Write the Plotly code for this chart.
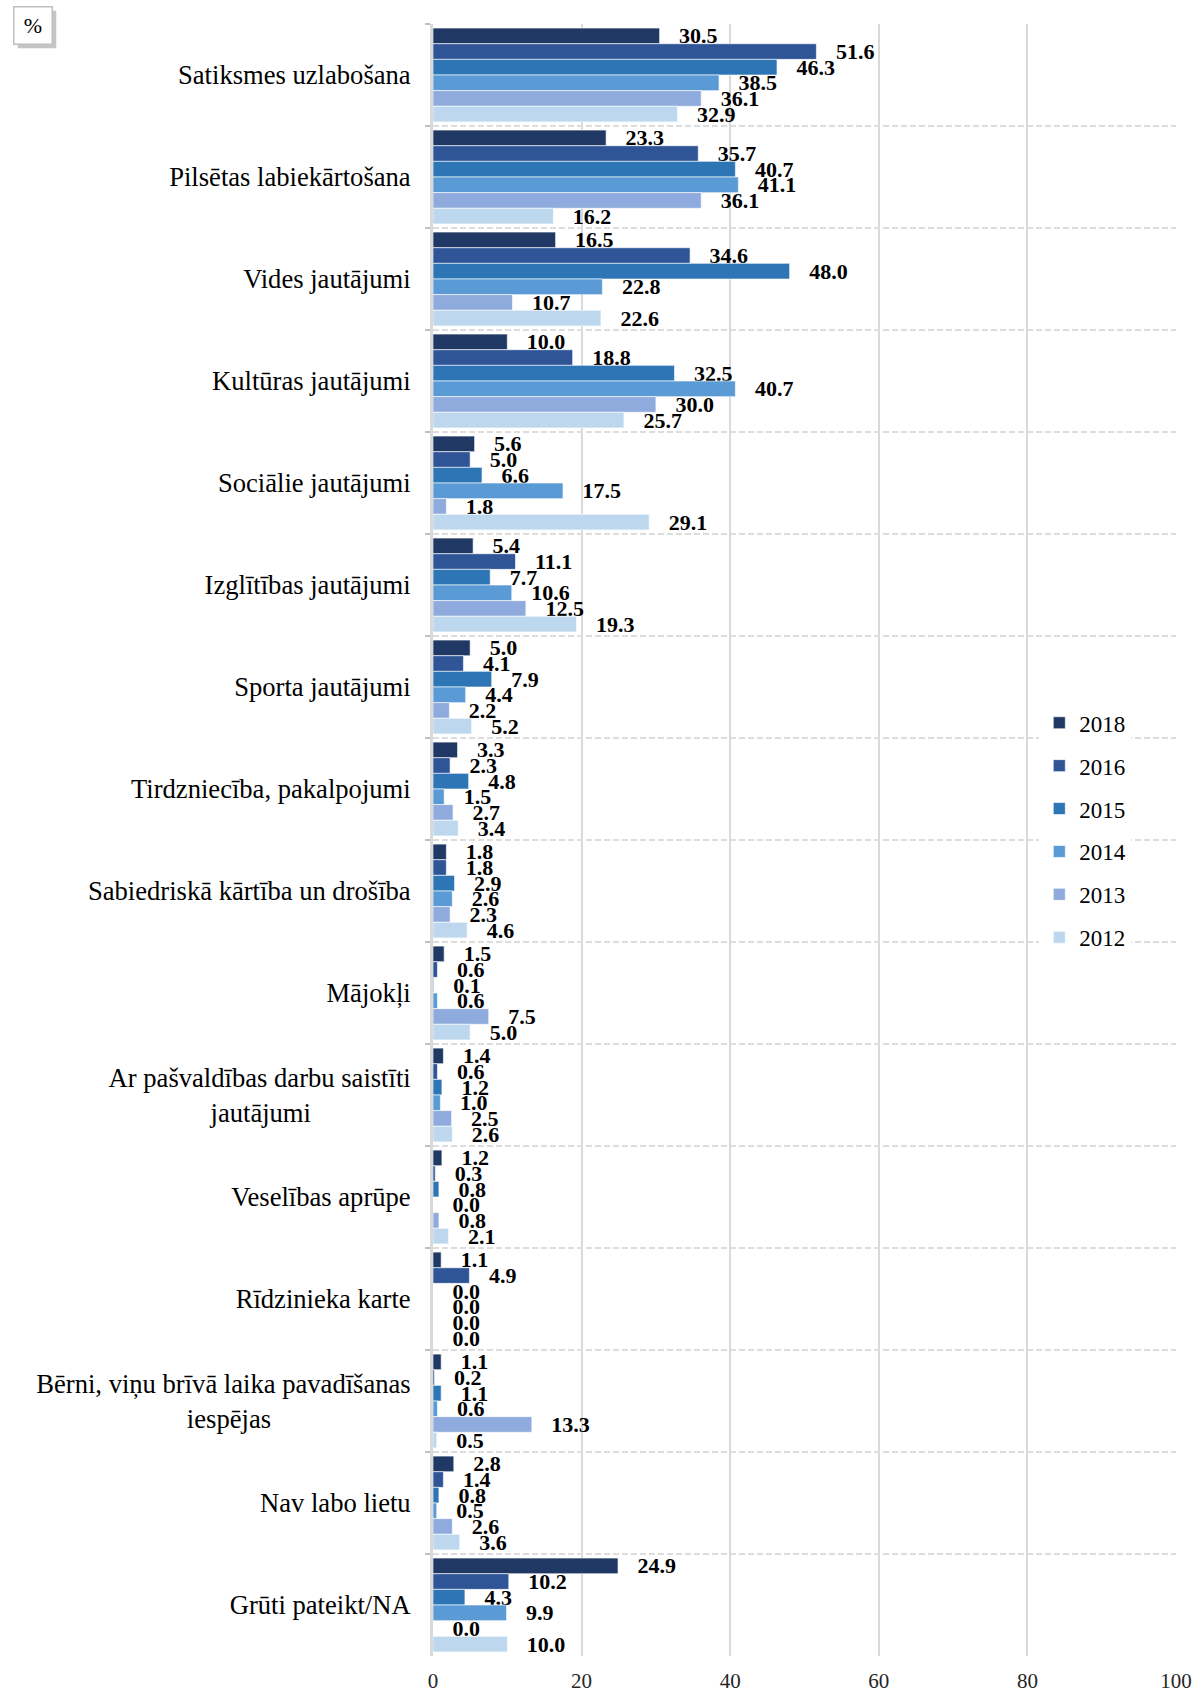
import plotly.graph_objects as go

NBSP = "\u00a0"

categories = [
    "Satiksmes uzlabošana",
    "Pilsētas labiekārtošana",
    "Vides jautājumi",
    "Kultūras jautājumi",
    "Sociālie jautājumi",
    "Izglītības jautājumi",
    "Sporta jautājumi",
    "Tirdzniecība, pakalpojumi",
    "Sabiedriskā kārtība un drošība",
    "Mājokļi",
    "Ar pašvaldības darbu saistīti<br>jautājumi" + NBSP * 15,
    "Veselības aprūpe",
    "Rīdzinieka karte",
    "Bērni, viņu brīvā laika pavadīšanas<br>iespējas" + NBSP * 21,
    "Nav labo lietu",
    "Grūti pateikt/NA",
]

years = ["2018", "2016", "2015", "2014", "2013", "2012"]

v2018 = [30.5, 23.3, 16.5, 10.0, 5.6, 5.4, 5.0, 3.3, 1.8, 1.5, 1.4, 1.2, 1.1, 1.1, 2.8, 24.9]
v2016 = [51.6, 35.7, 34.6, 18.8, 5.0, 11.1, 4.1, 2.3, 1.8, 0.6, 0.6, 0.3, 4.9, 0.2, 1.4, 10.2]
v2015 = [46.3, 40.7, 48.0, 32.5, 6.6, 7.7, 7.9, 4.8, 2.9, 0.1, 1.2, 0.8, 0.0, 1.1, 0.8, 4.3]
v2014 = [38.5, 41.1, 22.8, 40.7, 17.5, 10.6, 4.4, 1.5, 2.6, 0.6, 1.0, 0.0, 0.0, 0.6, 0.5, 9.9]
v2013 = [36.1, 36.1, 10.7, 30.0, 1.8, 12.5, 2.2, 2.7, 2.3, 7.5, 2.5, 0.8, 0.0, 13.3, 2.6, 0.0]
v2012 = [32.9, 16.2, 22.6, 25.7, 29.1, 19.3, 5.2, 3.4, 4.6, 5.0, 2.6, 2.1, 0.0, 0.5, 3.6, 10.0]

series = [v2018, v2016, v2015, v2014, v2013, v2012]
colors = ["#203864", "#2F5597", "#2E75B6", "#5B9BD5", "#8FAADC", "#BDD7EE"]

FONT = "Liberation Serif"

fig = go.Figure()
for year, vals, col in zip(years, series, colors):
    fig.add_trace(go.Bar(
        y=categories, x=vals, name=year, orientation="h",
        marker=dict(color=col, line=dict(color="rgba(255,255,255,0.6)", width=1)),
        texttemplate=NBSP * 3 + "<b>%{x:.1f}</b>",
        textposition="outside", constraintext="none", cliponaxis=False,
        textfont=dict(family=FONT, size=22, color="black"),
        legendgroup=year,
    ))

fig.update_layout(
    width=1197, height=1693,
    margin=dict(l=433, r=21, t=24, b=37),
    paper_bgcolor="white", plot_bgcolor="white",
    barmode="group", bargap=0.08, bargroupgap=0,
    font=dict(family=FONT, color="black"),
    showlegend=True,
    legend=dict(x=0.816, y=0.585, xanchor="left", yanchor="top",
                bgcolor="white", font=dict(family=FONT, size=23, color="black"),
                tracegroupgap=10, traceorder="grouped"),
)

fig.update_xaxes(
    range=[0, 100], tickvals=[0, 20, 40, 60, 80, 100],
    showgrid=True, gridcolor="#D9D9D9", gridwidth=2,
    zeroline=False, showline=False, ticks="", automargin=False,
    ticklabelstandoff=10,
    tickfont=dict(family=FONT, size=21, color="#262626"),
)

fig.update_yaxes(
    autorange="reversed", type="category", automargin=False,
    tickson="boundaries", ticks="outside", ticklen=5, tickcolor="#BFBFBF", tickwidth=2,
    showgrid=True, gridcolor="#DDDDDD", gridwidth=1.5, griddash="6px,3px",
    showline=True, linecolor="#D9D9D9", linewidth=3,
    ticklabelstandoff=14,
    tickfont=dict(family=FONT, size=26.6, color="black"),
)

# "%" box with a small drop shadow
fig.add_annotation(xref="paper", yref="paper", x=-0.5600, y=1.0086,
                   xanchor="left", yanchor="top",
                   text=" ", showarrow=False, width=35, height=34,
                   bgcolor="rgba(140,140,140,0.5)", borderwidth=1.5,
                   bordercolor="rgba(0,0,0,0)")
fig.add_annotation(xref="paper", yref="paper", x=-0.5653, y=1.0110,
                   xanchor="left", yanchor="top",
                   text="%", showarrow=False, width=35, height=34,
                   font=dict(family=FONT, size=22, color="black"),
                   bgcolor="white", bordercolor="#BFBFBF", borderwidth=1.5)

fig.write_html("out.html", config={"displayModeBar": False},
               post_script="document.body.style.margin='0';")
